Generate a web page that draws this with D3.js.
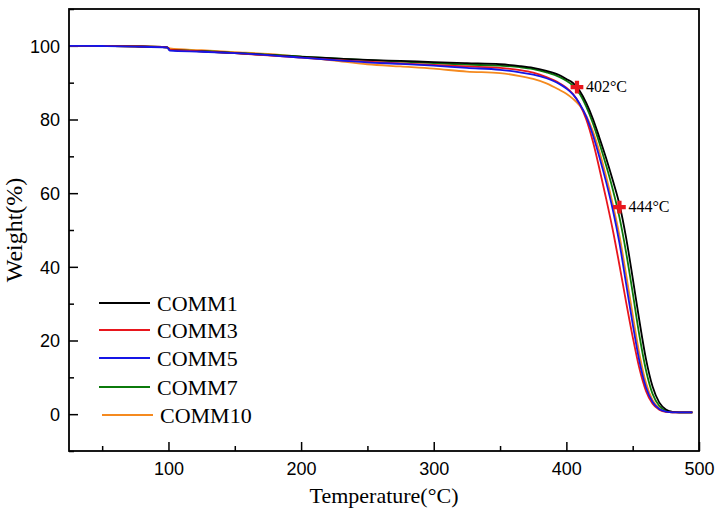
<!DOCTYPE html>
<html><head><meta charset="utf-8">
<script src="https://cdn.jsdelivr.net/npm/d3@7"></script>
<style>body{margin:0;background:#fff}</style>
</head><body>
<svg id="c" width="717" height="512"></svg>
<script>
const temps = [25,50,75,99,101,125,150,175,200,225,250,275,300,325,350,365,375,385,395,400,405,410,415,420,425,430,435,440,445,450,455,460,465,470,475,480,485,495];
const comm1 = [100,99.95,99.85,99.6,98.9,98.5,98.0,97.5,97.0,96.6,96.2,95.9,95.6,95.3,95.0,94.5,94.0,93.2,92.0,91.0,89.9,87.8,84.5,80.2,75,69.5,63.5,57,48,37,25.5,15,7.5,3.2,1.3,0.6,0.5,0.5];
const comm3 = [100,99.95,99.85,99.6,98.9,98.5,98.0,97.4,96.8,96.2,95.7,95.2,94.8,94.4,94.0,93.4,92.7,91.5,89.8,88.6,86.9,84.2,80.0,74.0,66.5,58.5,50.0,40.5,30.5,21,12.5,6.3,2.8,1.2,0.6,0.5,0.5,0.5];
const comm5 = [100,99.95,99.8,99.55,98.7,98.4,98.0,97.5,96.8,96.1,95.5,95.1,94.6,94.0,93.5,92.8,92.2,91.2,89.6,88.4,86.8,84.3,80.8,75.8,69.7,63,55.5,46.5,35.5,24.5,14.5,7.3,3.3,1.4,0.7,0.5,0.5,0.5];
const comm7 = [100,99.95,99.85,99.6,98.9,98.6,98.1,97.6,97.1,96.6,96.1,95.7,95.3,94.9,94.6,94.2,93.7,92.8,91.5,90.5,89.2,87.0,83.5,79,73.5,67.5,61,53.5,44,33,21.5,12,5.5,2.3,1.0,0.6,0.5,0.5];
const comm10 = [100,99.95,99.85,99.6,99.3,98.8,98.3,97.8,97.0,96.0,95.0,94.4,93.8,93.0,92.6,91.8,91.0,89.8,88.0,87.0,85.6,83.8,81.0,76.8,71.2,64.5,57,48.5,38,27,16.5,8.5,3.8,1.6,0.7,0.5,0.5,0.5];
const seriesNames = ["COMM1","COMM3","COMM5","COMM7","COMM10"];
const seriesColors = ["#000000","#e8161d","#1515e6","#0b7a0b","#f58a1f"];
const xTicks = [100,200,300,400,500];
const yTicks = [0,20,40,60,80,100];
const marks = [{t:408,w:88.8,label:"402°C"},{t:440,w:56.2,label:"444°C"}];

const svg = d3.select("#c");
const L=69,R=699,T=9,B=451;
const x = d3.scaleLinear().domain([25,500]).range([L,R]);
const y = d3.scaleLinear().domain([-10,110]).range([B,T]);
const allSeries=[comm1,comm3,comm5,comm7,comm10];

const g = svg.append("g");
g.append("g").attr("transform",`translate(0,${B})`)
  .call(d3.axisBottom(x).tickValues(d3.range(50,500,100)).tickSize(-5).tickFormat(""))
  .call(s=>s.select(".domain").remove());
g.append("g").attr("transform",`translate(${L},0)`)
  .call(d3.axisLeft(y).tickValues(d3.range(-10,111,20)).tickSize(-5).tickFormat(""))
  .call(s=>s.select(".domain").remove());
const xa = g.append("g").attr("transform",`translate(0,${B})`)
  .call(d3.axisBottom(x).tickValues(xTicks).tickSize(-9).tickPadding(8));
const ya = g.append("g").attr("transform",`translate(${L},0)`)
  .call(d3.axisLeft(y).tickValues(yTicks).tickSize(-9).tickPadding(9));
[xa,ya].forEach(a=>{a.select(".domain").remove();
  a.selectAll("text").attr("font-family","Liberation Sans, Arial").attr("font-size",18).attr("fill","#000");});
xa.selectAll("text").attr("dy","0.9em");
ya.selectAll("text").attr("dy","0.35em");
g.selectAll(".tick line").attr("stroke","#000").attr("stroke-width",1.5);

svg.append("clipPath").attr("id","clp").append("rect").attr("x",L).attr("y",T).attr("width",R-L).attr("height",B-T);
const line = d3.line().x((d,i)=>x(temps[i])).y(d=>y(d)).curve(d3.curveMonotoneX);
const order=[4,3,0,1,2];
order.forEach(k=>{
  svg.append("path").attr("d",line(allSeries[k])).attr("fill","none")
    .attr("stroke",seriesColors[k]).attr("stroke-width",1.8).attr("clip-path","url(#clp)");
});

svg.append("rect").attr("x",L).attr("y",T).attr("width",R-L).attr("height",B-T)
  .attr("fill","none").attr("stroke","#000").attr("stroke-width",1.8);

marks.forEach(m=>{
  svg.append("path").attr("d",d3.symbol(d3.symbolCross,90)())
    .attr("transform",`translate(${x(m.t)},${y(m.w)})`).attr("fill","#e8161d");
  svg.append("text").attr("x",x(m.t)+9).attr("y",y(m.w)+5).text(m.label)
    .attr("font-family","Liberation Serif, Times New Roman").attr("font-size",16);
});

const legY=[303,330,358,387,415];
seriesNames.forEach((n,i)=>{
  const off = i===4?3:0;
  svg.append("line").attr("x1",99+off).attr("x2",150+off).attr("y1",legY[i]).attr("y2",legY[i])
    .attr("stroke",seriesColors[i]).attr("stroke-width",1.8);
  svg.append("text").attr("x",157+off).attr("y",legY[i]).attr("dy","0.35em").text(n)
    .attr("font-family","Liberation Serif, Times New Roman").attr("font-size",22);
});

svg.append("text").attr("x",(L+R)/2).attr("y",503).attr("text-anchor","middle")
  .attr("font-family","Liberation Serif, Times New Roman").attr("font-size",22).text("Temperature(°C)");
svg.append("text").attr("transform",`translate(22,${(T+B)/2}) rotate(-90)`).attr("text-anchor","middle")
  .attr("font-family","Liberation Serif, Times New Roman").attr("font-size",24).text("Weight(%)");
</script>
</body></html>
